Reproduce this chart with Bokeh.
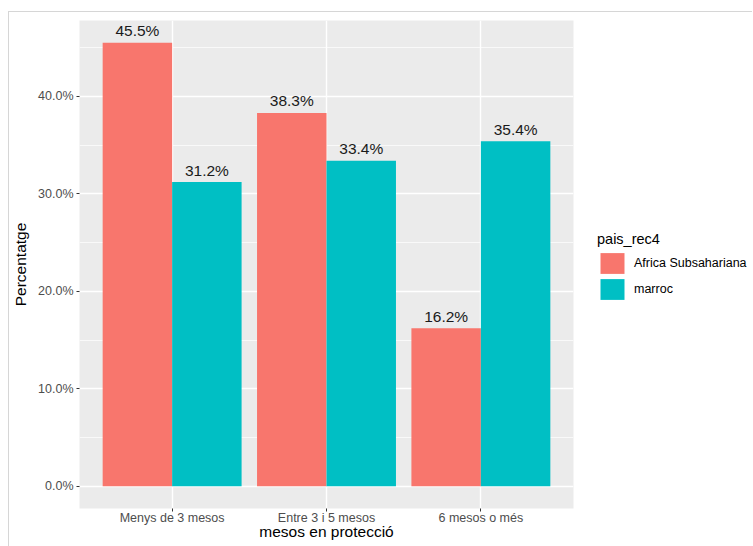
from bokeh.plotting import figure
from bokeh.layouts import row
from bokeh.models import (ColumnDataSource, FactorRange, Range1d, FixedTicker,
                          PrintfTickFormatter, Legend, LegendItem)
from bokeh.transform import dodge
from bokeh.core.properties import value
from bokeh.embed import file_html
from bokeh.resources import INLINE

# ---- data ----
categories = ["Menys de 3 mesos", "Entre 3 i 5 mesos", "6 mesos o més"]
series_names = ["Africa Subsahariana", "marroc"]
africa = [45.5, 38.3, 16.2]
marroc = [31.2, 33.4, 35.4]
colors = ["#F8766D", "#00BFC4"]
y_ticks = [0, 10, 20, 30, 40]
y_minor_ticks = [5, 15, 25, 35, 45]

FONT = "Liberation Sans"

src = ColumnDataSource(dict(
    cat=categories,
    africa=africa,
    marroc=marroc,
    africa_lbl=[f"{v:.1f}%" for v in africa],
    marroc_lbl=[f"{v:.1f}%" for v in marroc],
))

ymax = max(africa + marroc)
pad = 0.05 * ymax

H = 534
p = figure(
    x_range=FactorRange(*categories, range_padding=0.1, range_padding_units="absolute"),
    y_range=Range1d(-pad, ymax + pad),
    width=565, height=H,
    output_backend="svg", toolbar_location=None,
    min_border_left=70, min_border_right=1, min_border_top=8, min_border_bottom=38,
)
p.background_fill_color = "#EBEBEB"
p.border_fill_color = "white"
p.outline_line_color = None

bw = 0.45
r1 = p.vbar(x=dodge("cat", -bw / 2, range=p.x_range), top="africa", bottom=0, width=bw,
            source=src, fill_color=colors[0], line_color=None)
r2 = p.vbar(x=dodge("cat", bw / 2, range=p.x_range), top="marroc", bottom=0, width=bw,
            source=src, fill_color=colors[1], line_color=None)

for field, off in (("africa", -bw / 2), ("marroc", bw / 2)):
    p.text(x=dodge("cat", off, range=p.x_range), y=field, text=field + "_lbl", source=src,
           text_align="center", text_baseline="alphabetic", y_offset=-12,
           text_font=value(FONT), text_font_size="15.5px", text_color="#1A1A1A")

# axes
p.yaxis.ticker = FixedTicker(ticks=y_ticks, minor_ticks=y_minor_ticks)
p.yaxis.formatter = PrintfTickFormatter(format="%.1f%%")
p.xaxis.axis_label = "mesos en protecció"
p.yaxis.axis_label = "Percentatge"
for ax in (p.xaxis[0], p.yaxis[0]):
    ax.axis_line_color = None
    ax.major_tick_line_color = "#333333"
    ax.major_tick_line_width = 1
    ax.major_tick_out = 3
    ax.major_tick_in = 0
    ax.minor_tick_out = 0
    ax.minor_tick_in = 0
    ax.major_label_text_font = FONT
    ax.major_label_text_font_size = "12.5px"
    ax.major_label_text_color = "#4D4D4D"
    ax.axis_label_text_font = FONT
    ax.axis_label_text_font_size = "15.5px"
    ax.axis_label_text_font_style = "normal"
    ax.axis_label_text_color = "#000000"
p.xaxis.major_label_standoff = -1
p.xaxis.axis_label_standoff = -5
p.yaxis.major_label_standoff = 3
p.yaxis.axis_label_standoff = 6

p.xgrid.grid_line_color = "white"
p.xgrid.grid_line_width = 1.4
p.ygrid.grid_line_color = "white"
p.ygrid.grid_line_width = 1.4
p.ygrid.minor_grid_line_color = "white"
p.ygrid.minor_grid_line_width = 0.7

# ---- legend panel (to the right of the plot panel) ----
lp = figure(width=178, height=H, x_range=Range1d(0, 1), y_range=Range1d(0, 1),
            x_axis_type=None, y_axis_type=None, output_backend="svg",
            toolbar_location=None, min_border=0)
lp.grid.visible = False
lp.outline_line_color = None
lp.background_fill_color = "white"
lp.border_fill_color = "white"
# zero-size marks, only used to draw the legend keys
k1 = lp.vbar(x=[0.5], top=[0], bottom=[0], width=0, fill_color=colors[0], line_color=None)
k2 = lp.vbar(x=[0.5], top=[0], bottom=[0], width=0, fill_color=colors[1], line_color=None)

legend = Legend(
    items=[LegendItem(label=series_names[0], renderers=[k1]),
           LegendItem(label=series_names[1], renderers=[k2])],
    location=(23, 206),
    title="pais_rec4",
    title_text_font=FONT, title_text_font_size="14.5px", title_text_font_style="normal",
    title_text_color="#000000", title_standoff=3,
    label_text_font=FONT, label_text_font_size="12.5px", label_text_color="#000000",
    glyph_width=30, glyph_height=26, label_standoff=7, spacing=0,
    padding=5, margin=0, border_line_color=None, background_fill_alpha=0,
)
lp.add_layout(legend, "center")

layout = row(p, lp, spacing=0)
layout.styles = {"border-top": "1px solid #D6D6D6", "border-left": "1px solid #D6D6D6",
                 "margin-left": "8px", "margin-top": "11px"}

open("out.html", "w").write(file_html(layout, INLINE))
